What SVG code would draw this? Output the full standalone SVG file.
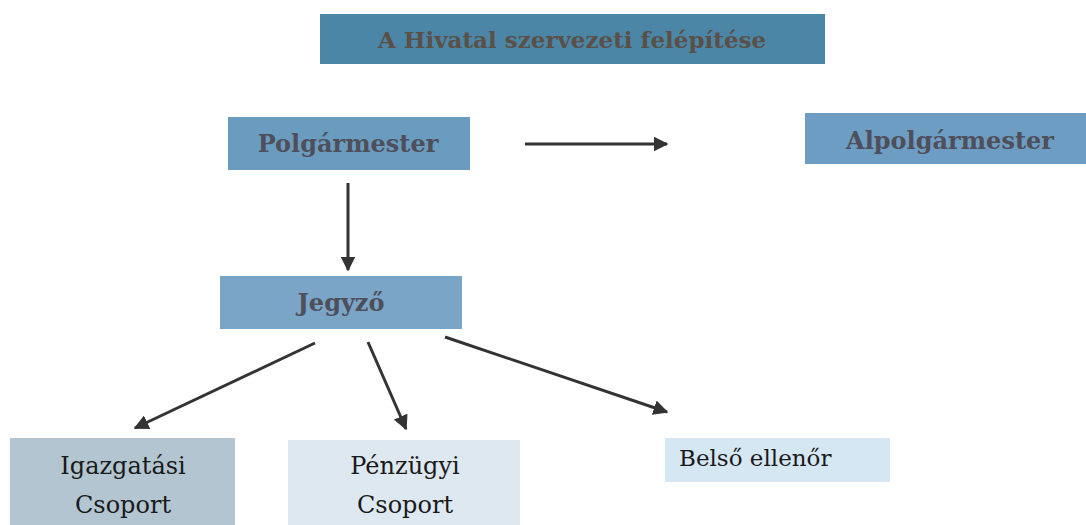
<svg xmlns="http://www.w3.org/2000/svg" width="1086" height="525" viewBox="0 0 1086 525">
<style>
.hdr{font-family:'DejaVu Serif','Liberation Serif',serif;font-weight:bold;font-size:24px;text-anchor:middle;fill:#4e4f5a}
.reg{font-family:'DejaVu Serif','Liberation Serif',serif;font-size:24px;text-anchor:middle;fill:#1a1a1a}
.conn{stroke:#333;stroke-width:3;fill:none}
</style>
<defs>
<marker id="ah" viewBox="0 0 10 10" refX="9" refY="5" markerWidth="5" markerHeight="5" orient="auto" markerUnits="strokeWidth">
<path d="M0,0 L10,5 L0,10 z" fill="#333"/>
</marker>
</defs>
<rect width="1086" height="525" fill="#fff"/>
<g id="title">
<rect x="320" y="14" width="505" height="50" fill="#4b86a7"/>
<text class="hdr" x="572" y="48" style="fill:#5a5048;font-size:23px">A Hivatal szervezeti felépítése</text>
</g>
<g id="polgarmester">
<rect x="228" y="117" width="242" height="53" fill="#6a9cbf"/>
<text class="hdr" x="348" y="152">Polgármester</text>
</g>
<g id="alpolgarmester">
<rect x="805" y="113" width="281" height="51" fill="#6d9dc2"/>
<text class="hdr" x="950" y="149">Alpolgármester</text>
</g>
<g id="jegyzo">
<rect x="220" y="276" width="242" height="53" fill="#7aa5c6"/>
<text class="hdr" x="341" y="311">Jegyző</text>
</g>
<g id="igazgatasi">
<rect x="10" y="438" width="225" height="87" fill="#b2c5d1"/>
<text class="reg" x="123" y="474">Igazgatási</text>
<text class="reg" x="123" y="513">Csoport</text>
</g>
<g id="penzugyi">
<rect x="288" y="440" width="232" height="85" fill="#dde8f1"/>
<text class="reg" x="405" y="474">Pénzügyi</text>
<text class="reg" x="405" y="513">Csoport</text>
</g>
<g id="belso">
<rect x="665" y="438" width="225" height="44" fill="#d6e7f4"/>
<text class="reg" x="679" y="466" style="text-anchor:start;font-size:23px">Belső ellenőr</text>
</g>
<g id="connectors">
<line class="conn" x1="525" y1="144" x2="667" y2="144" marker-end="url(#ah)"/>
<line class="conn" x1="348" y1="183" x2="348" y2="270" marker-end="url(#ah)"/>
<line class="conn" x1="315" y1="343" x2="135" y2="428" marker-end="url(#ah)"/>
<line class="conn" x1="368" y1="342" x2="406" y2="429" marker-end="url(#ah)"/>
<line class="conn" x1="445" y1="337" x2="667" y2="412" marker-end="url(#ah)"/>
</g>
</svg>
